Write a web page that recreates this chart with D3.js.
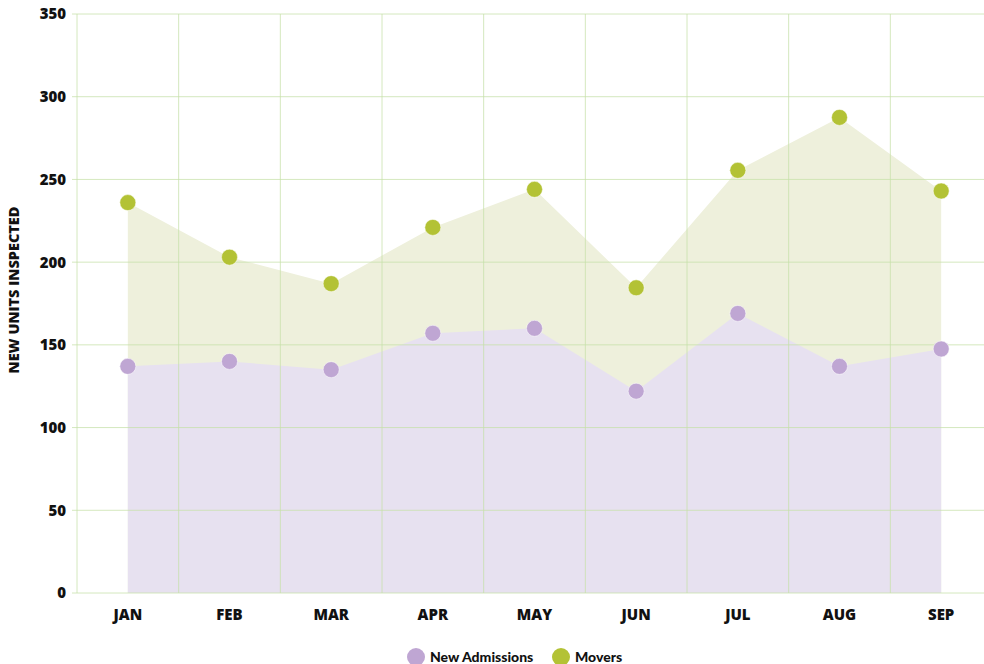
<!DOCTYPE html>
<html>
<head>
<meta charset="utf-8">
<script src="https://cdn.jsdelivr.net/npm/d3@7"></script>
<style>
	body { margin: 0; background: #fff; }
	text { font-family: "Open Sans", Lato, sans-serif; font-weight: 800; fill: #111; }
	.legend text { font-family: Lato, "Open Sans", sans-serif; font-weight: 900; }
</style>
</head>
<body>
<div id="chart"></div>
<script>
var months = ['JAN', 'FEB', 'MAR', 'APR', 'MAY', 'JUN', 'JUL', 'AUG', 'SEP']
var admissions = [137, 140, 135, 157, 160, 122, 169, 137, 147.5]
var movers = [236, 203, 187, 221, 244, 184.5, 255.5, 287.5, 243]
var yTicks = [0, 50, 100, 150, 200, 250, 300, 350]

var width = 984,
	height = 664

var plotLeft = 77,
	plotTop = 14,
	plotBottom = 593,
	plotRight = 984

var svg = d3.select('#chart').append('svg')
	.attr('width', width)
	.attr('height', height);

var x = d3.scaleBand()
	.range([plotLeft, 992])
	.domain(months);

var y = d3.scaleLinear()
	.range([plotBottom, plotTop])
	.domain([0, 350]);

var cx = function (d, i) { return x(months[i]) + x.bandwidth() / 2 }

// areas
var area = d3.area()
	.x(cx)
	.y0(y(0))
	.y1(function (d) { return y(d) });

svg.append('path')
	.datum(movers)
	.attr('d', area)
	.attr('fill', '#eef0dc');

svg.append('path')
	.datum(admissions)
	.attr('d', area)
	.attr('fill', '#e7e1f0');

// grid
svg.selectAll('.hgrid')
	.data(yTicks)
	.enter().append('line')
	.attr('class', 'hgrid')
	.attr('x1', plotLeft - 5)
	.attr('x2', plotRight)
	.attr('y1', function (d) { return y(d) })
	.attr('y2', function (d) { return y(d) })
	.attr('stroke', '#c5e0a8')
	.attr('stroke-opacity', 0.75)
	.attr('stroke-width', 1);

svg.selectAll('.vgrid')
	.data(months)
	.enter().append('line')
	.attr('class', 'vgrid')
	.attr('x1', function (d) { return x(d) })
	.attr('x2', function (d) { return x(d) })
	.attr('y1', plotTop)
	.attr('y2', plotBottom)
	.attr('stroke', '#c5e0a8')
	.attr('stroke-opacity', 0.75)
	.attr('stroke-width', 1);

// y tick labels
svg.selectAll('.ytick')
	.data(yTicks)
	.enter().append('text')
	.attr('class', 'ytick')
	.attr('x', plotLeft - 11)
	.attr('y', function (d) { return y(d) })
	.attr('dy', '0.36em')
	.attr('text-anchor', 'end')
	.style('font-size', '15px')
	.text(function (d) { return d });

// x labels
svg.selectAll('.xtick')
	.data(months)
	.enter().append('text')
	.attr('class', 'xtick')
	.attr('x', function (d) { return x(d) + x.bandwidth() / 2 })
	.attr('y', 620)
	.attr('text-anchor', 'middle')
	.style('font-size', '15px')
	.text(function (d) { return d });

svg.append('text')
	.attr('transform', 'translate(19,290) rotate(-90)')
	.attr('text-anchor', 'middle')
	.style('font-size', '14.5px')
	.text('NEW UNITS INSPECTED');

// points
svg.selectAll('.mov')
	.data(movers)
	.enter().append('circle')
	.attr('class', 'mov')
	.attr('cx', cx)
	.attr('cy', function (d) { return y(d) })
	.attr('r', 8)
	.attr('fill', '#b3c235')
	.attr('stroke', '#fff')
	.attr('stroke-opacity', 0.5);

svg.selectAll('.adm')
	.data(admissions)
	.enter().append('circle')
	.attr('class', 'adm')
	.attr('cx', cx)
	.attr('cy', function (d) { return y(d) })
	.attr('r', 8)
	.attr('fill', '#bfa6d3')
	.attr('stroke', '#fff')
	.attr('stroke-opacity', 0.5);

// legend
var legend = [
	{ name: 'New Admissions', color: '#bfa6d3', x: 416 },
	{ name: 'Movers', color: '#b3c235', x: 561 }
]
var lg = svg.selectAll('.legend')
	.data(legend)
	.enter().append('g')
	.attr('class', 'legend')
	.attr('transform', function (d) { return 'translate(' + d.x + ',657)' });

lg.append('circle')
	.attr('r', 9)
	.attr('fill', function (d) { return d.color });

lg.append('text')
	.attr('x', 14)
	.attr('dy', '0.36em')
	.style('font-size', '14px')
	.text(function (d) { return d.name });
</script>
</body>
</html>
